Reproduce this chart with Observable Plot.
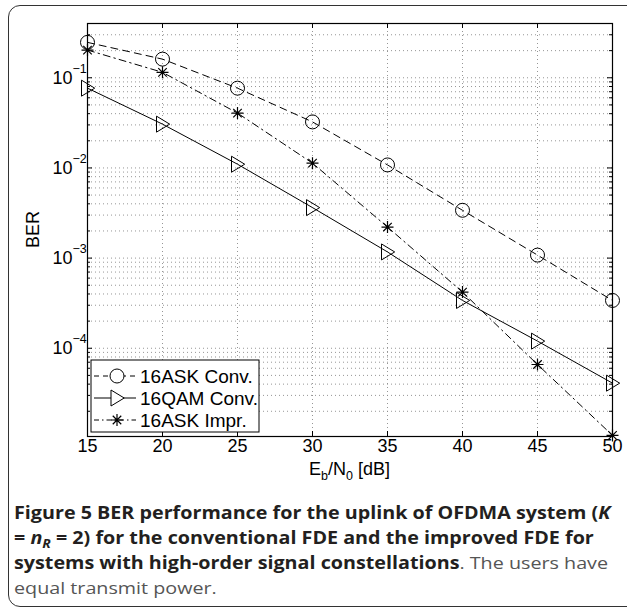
<!DOCTYPE html>
<html><head><meta charset="utf-8">
<script src="https://cdn.jsdelivr.net/npm/d3@7"></script>
<script src="https://cdn.jsdelivr.net/npm/@observablehq/plot@0.6"></script>
<style>
body{margin:0;background:#fff;width:627px;height:610px;overflow:hidden;position:relative;font-family:"Liberation Sans",Arial,sans-serif}
#frame{position:absolute;left:8px;top:5px;width:660px;height:602px;border:1.5px solid #333;border-radius:12px;box-sizing:border-box}
#chart{position:absolute;left:0;top:0}
#caption{position:absolute;left:14px;top:500px;font-family:"Open Sans",sans-serif;font-size:17px;line-height:25px;color:#555;white-space:nowrap;transform:scaleX(1.16);transform-origin:0 0}
#caption b{color:#231f20;font-weight:700}
#caption sub{font-size:12px;line-height:0;vertical-align:-4px}
</style></head>
<body>
<div id="frame"></div>
<div id="chart"></div>
<div id="caption">
<b>Figure 5 BER performance for the uplink of OFDMA system (<i>K</i></b><br>
<b>= <i>n<sub>R</sub></i> = 2) for the conventional FDE and the improved FDE for</b><br>
<b>systems with high-order signal constellations</b>. The users have<br>
equal transmit power.
</div>
<script>
// ---- data ----
const ebn0 = [15, 20, 25, 30, 35, 40, 45, 50];
const ask16Conv = [0.247, 0.161, 0.0767, 0.0324, 0.0108, 0.00339, 0.00108, 0.000339];
const qam16Conv = [0.0767, 0.0306, 0.011, 0.00363, 0.00117, 0.000339, 0.00012, 0.000041];
const ask16Impr = [0.203, 0.115, 0.0406, 0.0113, 0.00221, 0.00042, 0.000066, 0.0000108];
const seriesNames = ["16ASK Conv.", "16QAM Conv.", "16ASK Impr."];
const xTicks = [15, 20, 25, 30, 35, 40, 45, 50];
const yTicks = [1e-1, 1e-2, 1e-3, 1e-4];
const yTickExp = ["\u22121", "\u22122", "\u22123", "\u22124"];
const yDomain = [1.05e-5, 0.4];
const xDomain = [15, 50];
const minorMult = [2, 3, 4, 5, 6, 7, 8, 9];
const decades = [1e-5, 1e-4, 1e-3, 1e-2, 1e-1];

const minorY = decades.flatMap(d => minorMult.map(m => m * d)).filter(v => v > yDomain[0] && v < yDomain[1]);
const majorGridY = [1e-1, 1e-2, 1e-3, 1e-4];
const innerX = xTicks.filter(v => v > xDomain[0] && v < xDomain[1]);

const toRows = (vals, name) => ebn0.map((x, i) => ({x, y: vals[i], name}));
const dAskC = toRows(ask16Conv, seriesNames[0]);
const dQamC = toRows(qam16Conv, seriesNames[1]);
const dAskI = toRows(ask16Impr, seriesNames[2]);

// custom symbols
const triRight = {draw(ctx, size) { const r = Math.sqrt(size / Math.PI); ctx.moveTo(-0.75*r, -r); ctx.lineTo(0.9*r, 0); ctx.lineTo(-0.75*r, r); ctx.closePath(); }};
const aster = {draw(ctx, size) { const r = Math.sqrt(size / Math.PI), d = r * Math.SQRT1_2;
  ctx.moveTo(0, -r); ctx.lineTo(0, r); ctx.moveTo(-r, 0); ctx.lineTo(r, 0);
  ctx.moveTo(-d, -d); ctx.lineTo(d, d); ctx.moveTo(-d, d); ctx.lineTo(d, -d); }};

const DASH = "7,5", DASHDOT = "7,4,1.5,4";
const grid = {stroke: "#8a8a8a", strokeDasharray: "1,3", strokeWidth: 0.9};
const tickS = {stroke: "black", strokeWidth: 1};

const plot = Plot.plot({
  width: 627, height: 480,
  marginLeft: 87, marginRight: 15, marginTop: 23, marginBottom: 44,
  x: {domain: xDomain, axis: null},
  y: {type: "log", domain: yDomain, axis: null},
  style: {fontFamily: "'Liberation Sans', Arial, sans-serif", fontSize: "18px", color: "black", background: "transparent", overflow: "visible"},
  marks: [
    Plot.ruleY(minorY, {y: d => d, ...grid}),
    Plot.ruleY(majorGridY, {y: d => d, ...grid}),
    Plot.ruleX(innerX, {x: d => d, ...grid}),
    // x ticks bottom/top
    Plot.ruleX(innerX, {x: d => d, y1: yDomain[0], y2: yDomain[0], insetTop: -5, ...tickS}),
    Plot.ruleX(innerX, {x: d => d, y1: yDomain[1], y2: yDomain[1], insetBottom: -5, ...tickS}),
    // y major ticks left/right
    Plot.ruleY(yTicks, {y: d => d, x1: xDomain[0], x2: xDomain[0], insetRight: -5, ...tickS}),
    Plot.ruleY(yTicks, {y: d => d, x1: xDomain[1], x2: xDomain[1], insetLeft: -5, ...tickS}),
    // y minor ticks
    Plot.ruleY(minorY, {y: d => d, x1: xDomain[0], x2: xDomain[0], insetRight: -3, ...tickS}),
    Plot.ruleY(minorY, {y: d => d, x1: xDomain[1], x2: xDomain[1], insetLeft: -3, ...tickS}),
    // tick labels
    Plot.text(xTicks, {x: d => d, frameAnchor: "bottom", dy: 15, text: d => String(d), fill: "black", fontSize: 18}),
    Plot.text(yTicks, {y: d => d, frameAnchor: "left", dx: -15, textAnchor: "end", text: d => "10", fill: "black", fontSize: 18}),
    Plot.text(yTicks, {y: d => d, frameAnchor: "left", dx: -15, dy: -9, textAnchor: "start", text: (d, i) => yTickExp[i], fontSize: 12.5, fill: "black"}),
    // series
    Plot.line(dAskC, {x: "x", y: "y", stroke: "black", strokeWidth: 1, strokeDasharray: DASH}),
    Plot.line(dQamC, {x: "x", y: "y", stroke: "black", strokeWidth: 1}),
    Plot.line(dAskI, {x: "x", y: "y", stroke: "black", strokeWidth: 1, strokeDasharray: DASHDOT}),
    Plot.dot(dAskC, {x: "x", y: "y", r: 7, stroke: "black", fill: "none", strokeWidth: 1}),
    Plot.dot(dQamC, {x: "x", y: "y", r: 8, symbol: triRight, stroke: "black", fill: "none", strokeWidth: 1}),
    Plot.dot(dAskI, {x: "x", y: "y", r: 6, symbol: aster, stroke: "black", fill: "none", strokeWidth: 1.2}),
    Plot.frame({stroke: "black", strokeWidth: 1.2})
  ]
});
document.getElementById("chart").appendChild(plot);

// axis labels
const svg = d3.select(plot);
const xs = plot.scale("x"), ys = plot.scale("y");
const cx = (xs.apply(xDomain[0]) + xs.apply(xDomain[1])) / 2;
const cy = (ys.apply(yDomain[0]) + ys.apply(yDomain[1])) / 2;
const xl = svg.append("text").attr("x", cx).attr("y", ys.apply(yDomain[0]) + 39)
  .attr("text-anchor", "middle").attr("font-size", 18).attr("fill", "black");
xl.append("tspan").text("E");
xl.append("tspan").attr("font-size", 12.5).attr("dy", 5).text("b");
xl.append("tspan").attr("dy", -5).text("/N");
xl.append("tspan").attr("font-size", 12.5).attr("dy", 5).text("0");
xl.append("tspan").attr("dy", -5).text(" [dB]");
svg.append("text").attr("transform", `translate(${xs.apply(xDomain[0]) - 54},${cy}) rotate(-90)`)
  .attr("text-anchor", "middle").attr("dy", "0.35em").attr("font-size", 18).attr("fill", "black").text("BER");

// legend (inside axes, lower-left)
const lx = xs.apply(xDomain[0]) + 4, ly = ys.apply(yDomain[0]) - 76;
const lg = svg.append("g").attr("transform", `translate(${lx},${ly})`).attr("text-anchor", "start");
lg.append("rect").attr("width", 168).attr("height", 72).attr("fill", "white").attr("stroke", "black").attr("stroke-width", 1);
seriesNames.forEach((name, i) => {
  const yy = 16 + i * 22;
  lg.append("line").attr("x1", 3).attr("x2", 45).attr("y1", yy).attr("y2", yy).attr("stroke", "black").attr("stroke-width", 1)
    .attr("stroke-dasharray", i === 0 ? "5,4" : i === 2 ? "5,3,1.5,3" : null);
  const m = lg.append("g").attr("transform", `translate(26,${yy})`);
  if (i === 0) m.append("circle").attr("r", 7).attr("fill", "white").attr("stroke", "black");
  else {
    const p = d3.path(); (i === 1 ? triRight : aster).draw(p, (i === 1 ? 64 : 36) * Math.PI);
    m.append("path").attr("d", p.toString()).attr("fill", i === 1 ? "white" : "none").attr("stroke", "black").attr("stroke-width", i === 2 ? 1.2 : 1);
  }
  lg.append("text").attr("x", 49).attr("y", yy).attr("dy", "0.36em").attr("font-size", 19).attr("text-anchor", "start").attr("fill", "black").text(name);
});
</script>
</body></html>
